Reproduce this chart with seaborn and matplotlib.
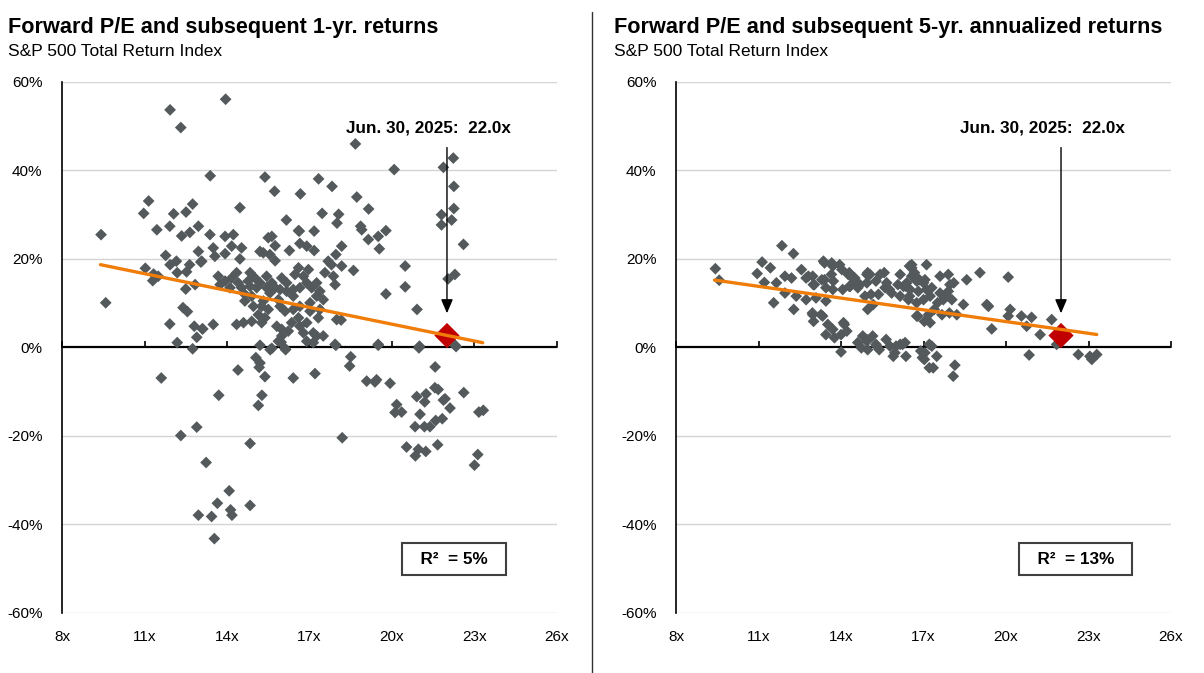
import matplotlib
matplotlib.use("Agg")
import matplotlib.pyplot as plt
import numpy as np
import seaborn as sns
from matplotlib.lines import Line2D

# ---- data ----
# left panel: forward P/E vs subsequent 1-yr return (%)
left_pe = [
    9.42, 9.59, 10.97, 11.15, 11.03, 11.33, 11.5, 11.30, 11.45, 11.61, 11.77, 11.92, 11.93, 11.93,
    12.06, 12.16, 12.19, 12.32, 12.35, 12.51, 12.53, 12.65, 12.64, 12.75, 12.96, 12.96, 13.05,
    12.5, 12.84, 12.4, 12.56, 11.92, 12.81, 13.1, 12.9, 12.19, 12.75, 12.32, 12.9, 12.96,
    13.39, 13.95, 14.47, 15.38, 15.73, 16.67, 16.16, 17.33, 17.82, 18.72, 18.67, 19.15, 17.46,
    18.06, 18.0, 18.86, 20.08, 16.6,
    13.38, 13.93, 14.23, 15.5, 15.63, 16.63, 17.17, 18.9, 19.14, 16.65, 16.9, 17.17, 16.27,
    15.75, 15.2, 15.32, 13.5, 13.56, 13.93, 14.17, 14.53, 14.47, 15.56, 15.75, 13.08, 18.17,
    17.96, 17.68, 17.8, 18.17, 18.6, 17.87, 17.56, 17.93, 16.96, 16.78, 16.9, 17.08, 17.26,
    17.38, 16.6, 16.47, 16.41, 16.65, 15.99, 16.17, 15.93, 16.17, 16.41, 15.44, 15.63, 15.75,
    15.44, 15.56, 15.87, 15.32, 14.84, 15.02, 15.2, 15.08, 14.84, 14.77, 14.65, 14.9, 14.65,
    14.96, 15.26, 15.14, 15.5, 15.38, 13.68, 13.93, 14.17, 14.35, 14.41, 13.75, 14.11, 14.53,
    15.93, 16.11, 16.41, 16.65, 16.6, 16.35, 16.65, 16.9, 15.99, 16.23, 16.78, 17.14, 17.26,
    17.5, 16.9, 17.14, 17.99, 17.32, 17.02, 17.38, 17.5, 17.26, 17.02, 13.5, 13.12, 14.35,
    14.6, 14.9, 15.26, 15.81, 15.99, 15.87, 15.2, 15.63, 16.11, 17.93,
    19.78, 19.5, 19.54, 20.48, 22.04, 22.29, 20.48, 19.78, 20.91, 18.15, 19.5, 21.0, 22.3,
    21.87, 22.23, 22.25, 22.25, 21.8, 22.17, 21.8, 22.6,
    13.7, 14.4, 15.05, 15.2, 15.17, 15.38, 15.27, 15.14, 15.57, 16.13, 15.97, 16.41, 17.2,
    17.96, 18.5, 18.46, 19.5, 19.08, 19.38, 19.44, 19.93, 20.98, 21.57, 22.33, 22.61, 21.56,
    21.68, 20.9, 21.24, 21.19, 21.87, 21.93, 22.11, 20.17, 20.11, 20.35, 21.02, 20.84, 21.18,
    21.38, 21.59, 21.83, 23.16, 23.32, 20.53, 20.96, 21.23, 20.85, 21.66, 23.12, 23.0, 18.19,
    13.24, 14.84, 14.08, 13.65, 14.13, 14.18, 13.44, 14.84, 13.54,
]
left_ret = [
    25.5, 10.1, 30.3, 33.1, 17.9, 16.6, 16.1, 15.1, 26.6, -6.9, 20.8, 27.4, 18.7, 53.7,
    30.2, 19.5, 16.9, 49.7, 25.2, 30.6, 17.1, 26.0, 18.7, 32.4, 27.4, 21.7, 19.3,
    13.2, 14.2, 9.0, 8.1, 5.3, 4.8, 4.2, 2.3, 1.1, -0.3, -19.9, -18.0, -37.9,
    38.8, 56.1, 31.6, 38.5, 35.3, 34.7, 28.8, 38.1, 36.4, 34.0, 46.0, 31.3, 30.3,
    30.1, 28.1, 27.4, 40.2, 26.4,
    25.5, 25.1, 25.5, 24.8, 25.1, 26.3, 26.3, 26.6, 24.4, 23.5, 22.9, 21.9, 21.9,
    23.0, 21.7, 21.4, 22.5, 20.6, 21.2, 22.9, 22.5, 20.0, 21.0, 19.6, 19.5, 22.9,
    21.0, 19.5, 18.7, 18.4, 17.4, 16.1, 16.9, 14.2, 17.6, 16.1, 14.6, 13.5, 14.6,
    12.7, 18.0, 16.5, 13.1, 13.5, 15.7, 14.6, 13.1, 12.7, 11.6, 16.1, 14.6, 13.5,
    13.5, 12.3, 10.8, 10.5, 16.9, 15.7, 14.6, 13.5, 13.8, 15.0, 12.0, 11.6, 10.5,
    9.3, 9.3, 7.4, 8.6, 6.7, 16.1, 15.0, 15.7, 16.9, 14.6, 14.2, 13.5, 13.5,
    9.3, 8.2, 8.6, 9.3, 6.7, 5.6, 4.8, 5.6, 4.1, 3.7, 3.3, 3.3, 2.6,
    2.6, 1.4, 1.1, 6.3, 6.7, 8.2, 8.6, 10.8, 11.6, 10.1, 5.2, 4.2, 5.2,
    5.6, 5.9, 5.6, 4.8, 2.6, 1.4, 0.5, -0.2, -0.2, 0.7,
    26.4, 25.1, 22.3, 18.4, 15.5, 16.5, 13.7, 12.1, 8.6, 6.2, 0.7, 0.3, 0.5,
    40.7, 42.8, 36.4, 31.4, 30.0, 28.8, 27.7, 23.3,
    -10.8, -5.1, -2.3, -3.5, -4.5, -6.6, -10.8, -13.1, -0.5, -0.5, 1.2, -6.9, -5.9,
    0.5, -2.1, -4.2, 0.5, -7.6, -7.8, -7.3, -8.1, -0.1, -4.4, 0.2, -10.2, -9.1,
    -9.5, -11.1, -10.5, -12.3, -11.9, -11.6, -13.7, -12.9, -14.7, -14.6, -15.1, -17.9, -17.9,
    -17.9, -16.5, -16.1, -14.6, -14.2, -22.5, -23.0, -23.5, -24.5, -22.0, -24.2, -26.6, -20.4,
    -26.0, -21.7, -32.4, -35.2, -36.7, -37.9, -38.2, -35.7, -43.2,
]

# right panel: forward P/E vs subsequent 5-yr annualized return (%)
right_pe = [
    9.43, 9.57, 11.85, 12.27, 11.13, 11.43, 10.95, 11.21, 11.65, 11.96, 12.2, 12.56, 12.81, 12.99,
    11.96, 11.55, 12.28, 12.37, 12.73, 13.09, 13.4, 13.7, 13.95, 13.4, 13.65, 13.45, 13.7, 13.45,
    12.96, 13.33, 13.0, 13.52, 13.7, 13.45, 13.76, 14.0, 14.12, 14.0, 14.3, 14.48, 14.3, 14.06,
    14.61, 14.97, 15.27, 15.57, 15.09, 14.97, 14.79, 14.61, 15.15, 15.27, 14.97, 15.64, 15.39,
    16.0, 16.36, 16.24, 15.76, 16.07, 16.36, 16.49, 16.67, 16.85, 16.49, 16.79, 17.03, 17.03,
    16.57, 17.11, 16.57, 16.75, 17.0, 16.39, 16.15, 16.27, 16.51, 16.81, 17.11, 17.24, 17.0,
    16.75, 16.45, 16.15, 15.84, 15.66, 15.42, 15.05, 14.94, 15.6, 15.36, 14.87, 15.17, 17.6,
    17.9, 18.1, 18.57, 19.05, 17.6, 17.9, 17.72, 18.03, 18.45, 18.21, 17.67, 19.3, 19.48,
    16.75, 17.18, 17.24, 14.94, 15.3, 15.78, 15.96, 16.15, 16.33, 15.9, 17.05, 17.3, 17.48,
    17.35, 18.14, 18.08, 14.74, 20.08, 19.36, 20.15, 20.08, 20.56, 20.93, 20.75, 21.24, 21.66,
    21.84, 20.84, 22.63, 23.05, 23.3, 23.12, 17.21, 17.21, 16.9, 16.96, 17.39, 17.94, 17.51,
    17.84, 17.96, 17.3, 16.57, 16.75, 17.05, 12.73, 12.97, 13.03, 13.36, 13.66, 14.03, 13.72,
    13.3, 14.26, 14.5, 14.33, 14.69, 14.94, 12.97, 13.27, 14.09, 14.21, 14.94,
]
right_ret = [
    17.8, 15.2, 23.0, 21.2, 19.3, 18.0, 16.7, 14.7, 14.6, 16.1, 15.7, 17.6, 16.1, 14.2,
    12.3, 10.1, 8.6, 11.6, 10.8, 11.2, 19.1, 18.4, 18.7, 15.3, 16.5, 13.5, 13.1, 10.5,
    7.8, 7.1, 5.9, 5.2, 4.1, 2.9, 2.2, 2.9, 5.2, -1.0, 16.9, 15.3, 13.8, 13.1,
    13.5, 16.9, 15.0, 16.9, 12.0, 8.6, 2.6, 1.1, 2.6, 0.7, -0.5, 1.8, -0.5,
    0.3, -2.0, 0.7, 13.1, 14.2, 13.8, 18.4, 16.9, 15.3, 11.6, 7.1, 5.9, -2.7,
    18.7, 18.7, 16.1, 15.0, 14.6, 14.6, 16.5, 13.8, 13.1, 12.7, 13.1, 11.6, 10.8,
    10.1, 10.8, 11.6, 12.3, 14.6, 16.5, 16.5, 14.6, 13.5, 12.0, 11.6, 9.7, 16.1,
    16.5, 14.6, 15.3, 16.9, 12.3, 12.7, 10.8, 10.8, 9.7, 7.4, 7.4, 9.7, 4.2,
    7.1, 7.4, 5.6, 1.8, 0.3, 0.3, -1.2, 0.7, 1.1, -2.0, -1.2, 0.3, -2.0,
    -4.6, -4.0, -6.5, -0.1, 15.9, 9.3, 8.6, 7.1, 7.1, 6.8, 4.8, 2.9, 6.3,
    0.7, -1.7, -1.6, -2.0, -1.6, -2.7, 0.7, -4.6, -0.8, -2.3, 8.6, 7.8, 10.1,
    11.6, 14.2, 13.5, 18.0, 15.7, 15.3, 15.7, 16.1, 14.2, 19.5, 19.1, 17.6, 15.0,
    15.3, 16.5, 15.7, 13.8, 14.2, 16.5, 7.4, 7.4, 5.6, 3.7, 1.4,
]

# current valuation point (Jun. 30, 2025)
current_pe = [22.0]
current_ret_1yr = [2.7]
current_ret_5yr = [2.7]

# regression lines (slope, intercept) and their x extent
trend_x = [9.4, 23.3]
trend_1yr = (-1.269, 30.64)
trend_5yr = (-0.885, 23.55)

x_ticks = [8, 11, 14, 17, 20, 23, 26]
y_ticks = [-60, -40, -20, 0, 20, 40, 60]

titles = ["Forward P/E and subsequent 1-yr. returns",
          "Forward P/E and subsequent 5-yr. annualized returns"]
subtitle = "S&P 500 Total Return Index"
r2_labels = ["R\u00b2  = 5%", "R\u00b2  = 13%"]
callout = "Jun. 30, 2025:  22.0x"

POINT = "#545a5c"
RED = "#c00000"
ORANGE = "#f07d0a"
GRID = "#d4d4d4"

sns.set_theme(style="white")
plt.rcParams["font.family"] = ["Liberation Sans", "DejaVu Sans"]
plt.rcParams["text.color"] = "black"
plt.rcParams["xtick.color"] = "black"
plt.rcParams["ytick.color"] = "black"

fig = plt.figure(figsize=(12.04, 6.73), dpi=100)
ax_l = fig.add_axes([0.0515, 0.0892, 0.4111, 0.789])
ax_r = fig.add_axes([0.5615, 0.0892, 0.4111, 0.789])

panels = [
    (ax_l, left_pe, left_ret, current_ret_1yr, trend_1yr, 22.25),
    (ax_r, right_pe, right_ret, current_ret_5yr, trend_5yr, 22.53),
]

for i, (ax, pe, ret, cur, trend, r2_x) in enumerate(panels):
    ax.set_xlim(8, 26)
    ax.set_ylim(-60, 60)

    # gridlines
    for yv in y_ticks:
        if yv != 0:
            ax.axhline(yv, color=GRID, lw=1, zorder=0)
    ax.axhline(0, color="black", lw=1.6, zorder=1)

    sns.scatterplot(x=pe, y=ret, marker="D", color=POINT, s=36,
                    edgecolor="none", linewidth=0, ax=ax, zorder=2, legend=False)
    sns.scatterplot(x=current_pe, y=cur, marker="D", color=RED, s=165,
                    edgecolor="none", linewidth=0, ax=ax, zorder=3, legend=False)

    tx = np.array(trend_x)
    ty = trend[0] * tx + trend[1]
    sns.lineplot(x=tx, y=ty, color=ORANGE, lw=2.4, ax=ax, zorder=4)

    # callout with arrow
    ax.text(21.33, 49.6, callout, ha="center", va="center",
            fontsize=12.3, fontweight="bold", color="black")
    ax.annotate("", xy=(current_pe[0], 7.1), xytext=(current_pe[0], 45.8),
                arrowprops=dict(arrowstyle="-|>,head_width=0.3,head_length=0.7",
                                color="black", lw=1), zorder=5)

    # R^2 box
    ax.text(r2_x, -47.9, "  " + r2_labels[i] + "  ", ha="center", va="center",
            fontsize=12.3, fontweight="bold",
            bbox=dict(boxstyle="square,pad=0.5", fc="white", ec="#404040", lw=1.5))

    # axes styling
    for side in ["top", "right", "bottom"]:
        ax.spines[side].set_visible(False)
    ax.spines["left"].set_color("black")
    ax.spines["left"].set_linewidth(1.2)
    ax.set_xticks(x_ticks)
    ax.set_xticklabels([f"{t}x" for t in x_ticks], fontsize=11)
    ax.set_yticks(y_ticks)
    ax.set_yticklabels([f"{t}%" for t in y_ticks], fontsize=11)
    ax.tick_params(axis="x", length=0, pad=12)
    ax.tick_params(axis="y", length=0, pad=14)
    ax.set_xlabel("")
    ax.set_ylabel("")
    ax.grid(False)

    # small tick marks on the zero line
    sec = ax.secondary_xaxis(0.5)
    sec.set_xticks(x_ticks)
    sec.set_xticklabels([])
    sec.tick_params(axis="x", direction="out", length=4, width=1.2, color="black")
    sec.spines["bottom"].set_visible(False)

# titles
fig.text(8 / 1204, 1 - 28 / 673, titles[0], fontsize=15.6, fontweight="bold", va="center")
fig.text(8 / 1204, 1 - 52 / 673, subtitle, fontsize=12.5, va="center")
fig.text(614 / 1204, 1 - 28 / 673, titles[1], fontsize=15.6, fontweight="bold", va="center")
fig.text(614 / 1204, 1 - 52 / 673, subtitle, fontsize=12.5, va="center")

# divider between panels
fig.add_artist(Line2D([592 / 1204, 592 / 1204], [0, 1 - 12 / 673],
                      transform=fig.transFigure, color="#333333", lw=1))

fig.savefig("out.png", dpi=100)
